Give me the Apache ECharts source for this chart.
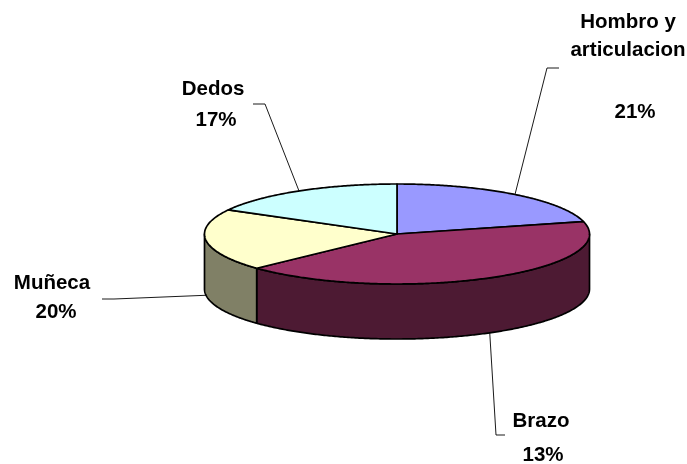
<!DOCTYPE html>
<html>
<head>
<meta charset="utf-8">
<script src="https://cdn.jsdelivr.net/npm/echarts@6/dist/echarts.min.js"></script>
<style>
  html, body { margin: 0; padding: 0; background: #ffffff; }
  #chart { width: 687px; height: 464px; }
</style>
</head>
<body>
<div id="chart"></div>
<script>
// Slice categories, their shares of the disc, and the percent text printed beside each slice
const categories = ['Hombro y articulacion', 'Brazo', 'Muñeca', 'Dedos'];
const shares = [21, 42, 20, 17];
const pctLabels = ['21%', '13%', '20%', '17%'];

// Face and wall colours of the tilted disc
const topColors = ['#9999FF', '#993366', '#FFFFCC', '#CCFFFF'];
const wallColors = ['#4D4D80', '#4D1A33', '#808066', '#668080'];

// Disc geometry (pixels): centre, radii of the top ellipse, wall height
const disc = { cx: 397, cy: 234, rx: 192.5, ry: 50, depth: 55 };

// Label placement: name block, percent line, and the elbow of the leader line
const labelLayout = [
  { name: [628, 36], nameLines: ['Hombro y', 'articulacion'], pct: [635, 112], elbow: [[547, 68], [559, 68]] },
  { name: [541, 421], nameLines: ['Brazo'], pct: [543, 455], elbow: [[496, 435], [505, 435]] },
  { name: [52, 283], nameLines: ['Muñeca'], pct: [56, 312], elbow: [[114, 299], [102, 299]] },
  { name: [213, 89], nameLines: ['Dedos'], pct: [216, 120], elbow: [[265, 104], [253, 104]] }
];

const total = shares.reduce((a, b) => a + b, 0);
const startFrac = [];
shares.reduce((acc, v, i) => { startFrac[i] = acc; return acc + v; }, 0);

// Point on the rim; angle measured clockwise from 12 o'clock
function rim(theta, drop) {
  return [disc.cx + disc.rx * Math.sin(theta), disc.cy - disc.ry * Math.cos(theta) + (drop || 0)];
}
function arc(a0, a1, drop) {
  const pts = [];
  const n = Math.max(2, Math.ceil(Math.abs(a1 - a0) / 0.01));
  for (let k = 0; k <= n; k++) pts.push(rim(a0 + (a1 - a0) * k / n, drop));
  return pts;
}

const FONT = 'bold 20.5px "Liberation Sans", Arial, sans-serif';
const OUTLINE = { stroke: '#000000', lineWidth: 1.7, lineJoin: 'round' };

function renderItem(params, api) {
  const i = params.dataIndex;
  const v = api.value(0);
  const a0 = startFrac[i] / total * Math.PI * 2;
  const a1 = (startFrac[i] + v) / total * Math.PI * 2;
  const mid = (a0 + a1) / 2;
  const children = [];

  // Outer wall: only the part facing the viewer (between 3 and 9 o'clock)
  const b0 = Math.max(a0, Math.PI / 2);
  const b1 = Math.min(a1, Math.PI * 1.5);
  if (b1 > b0) {
    const pts = arc(b0, b1, 0).concat(arc(b1, b0, disc.depth));
    children.push({
      type: 'polygon', z2: 1,
      shape: { points: pts },
      style: Object.assign({ fill: wallColors[i] }, OUTLINE)
    });
  }

  // Top face
  const top = [[disc.cx, disc.cy]].concat(arc(a0, a1, 0));
  children.push({
    type: 'polygon', z2: 2,
    shape: { points: top },
    style: Object.assign({ fill: topColors[i] }, OUTLINE)
  });

  // Leader line: from the visible rim at the slice middle to the label elbow
  const front = Math.cos(mid) < 0;
  const anchor = rim(mid, front ? disc.depth : 0);
  const lay = labelLayout[i];
  children.push({
    type: 'polyline', z2: 3,
    shape: { points: [anchor].concat(lay.elbow) },
    style: { stroke: '#000000', lineWidth: 0.9, fill: null }
  });

  // Category name and percent text
  children.push({
    type: 'text', z2: 4,
    style: {
      x: lay.name[0], y: lay.name[1],
      text: lay.nameLines.join('\n'),
      font: FONT, fill: '#000000',
      align: 'center', verticalAlign: 'middle', lineHeight: 28
    }
  });
  children.push({
    type: 'text', z2: 4,
    style: {
      x: lay.pct[0], y: lay.pct[1],
      text: pctLabels[i],
      font: FONT, fill: '#000000',
      align: 'center', verticalAlign: 'middle'
    }
  });

  return { type: 'group', children: children };
}

const chart = echarts.init(document.getElementById('chart'), null, { renderer: 'canvas' });
chart.setOption({
  backgroundColor: '#ffffff',
  animation: false,
  series: [{
    type: 'custom',
    coordinateSystem: 'none',
    renderItem: renderItem,
    data: shares.map((v, i) => ({ name: categories[i], value: [v] }))
  }]
});
</script>
</body>
</html>
